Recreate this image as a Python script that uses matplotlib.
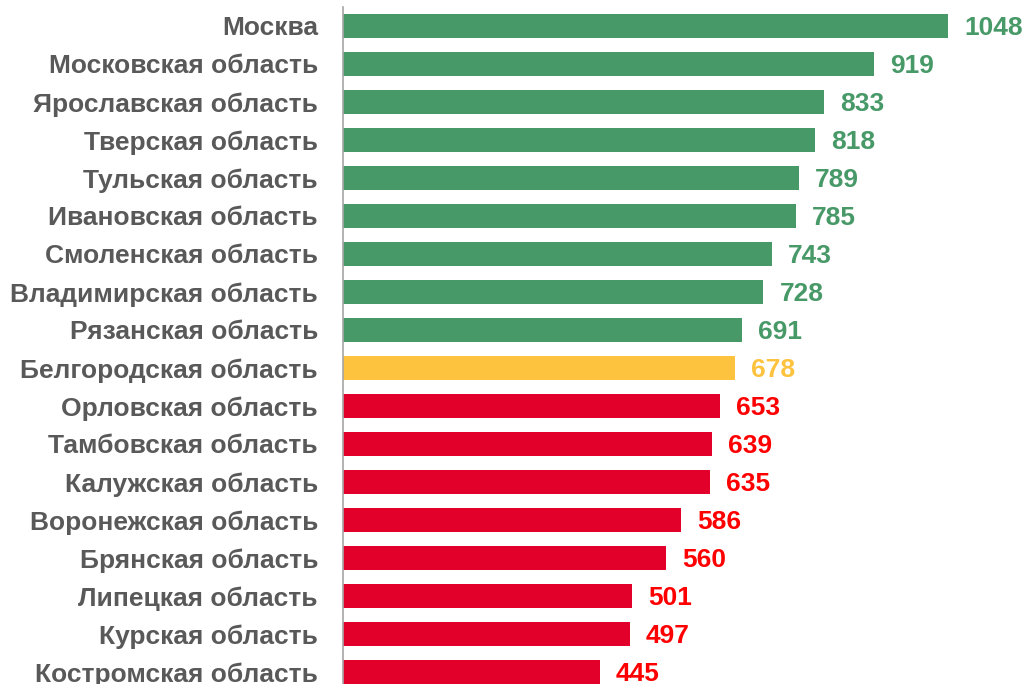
import matplotlib.pyplot as plt

# Data
regions = ['Москва', 'Московская область', 'Ярославская область', 'Тверская область',
           'Тульская область', 'Ивановская область', 'Смоленская область',
           'Владимирская область', 'Рязанская область', 'Белгородская область',
           'Орловская область', 'Тамбовская область', 'Калужская область',
           'Воронежская область', 'Брянская область', 'Липецкая область',
           'Курская область', 'Костромская область']
values = [1048, 919, 833, 818, 789, 785, 743, 728, 691, 678,
          653, 639, 635, 586, 560, 501, 497, 445]
highlight = 'Белгородская область'

green, yellow, red_bar, red_txt = '#489968', '#FDC33F', '#E2002B', '#FF0000'

hi = regions.index(highlight)
bar_colors, text_colors = [], []
for i in range(len(regions)):
    if i < hi:
        bar_colors.append(green); text_colors.append(green)
    elif i == hi:
        bar_colors.append(yellow); text_colors.append(yellow)
    else:
        bar_colors.append(red_bar); text_colors.append(red_txt)

plt.rcParams['font.family'] = ['Liberation Sans', 'DejaVu Sans']

fig = plt.figure(figsize=(10.25, 6.84), dpi=100)
ax = fig.add_axes([343 / 1025, 0, 682 / 1025, 677 / 684])

y = list(range(len(regions)))
ax.barh(y, values, height=0.63, color=bar_colors)

for yi, v, c in zip(y, values, text_colors):
    ax.annotate(str(v), (v, yi), xytext=(11.5, 0), textcoords='offset points',
                va='center_baseline', ha='left', fontsize=19, fontweight='bold', color=c)

ax.set_xlim(0, 1181)
ax.set_ylim(17.316, -0.5)
ax.set_yticks(y)
ax.set_yticklabels(regions, fontsize=19, fontweight='bold', color='#595959',
                   va='center_baseline')
ax.tick_params(axis='y', length=0, pad=18)
ax.set_xticks([])

for s in ['top', 'right', 'bottom']:
    ax.spines[s].set_visible(False)
ax.spines['left'].set_color('#A6A6A6')
ax.spines['left'].set_linewidth(1.2)

fig.savefig('out.png', dpi=100)
